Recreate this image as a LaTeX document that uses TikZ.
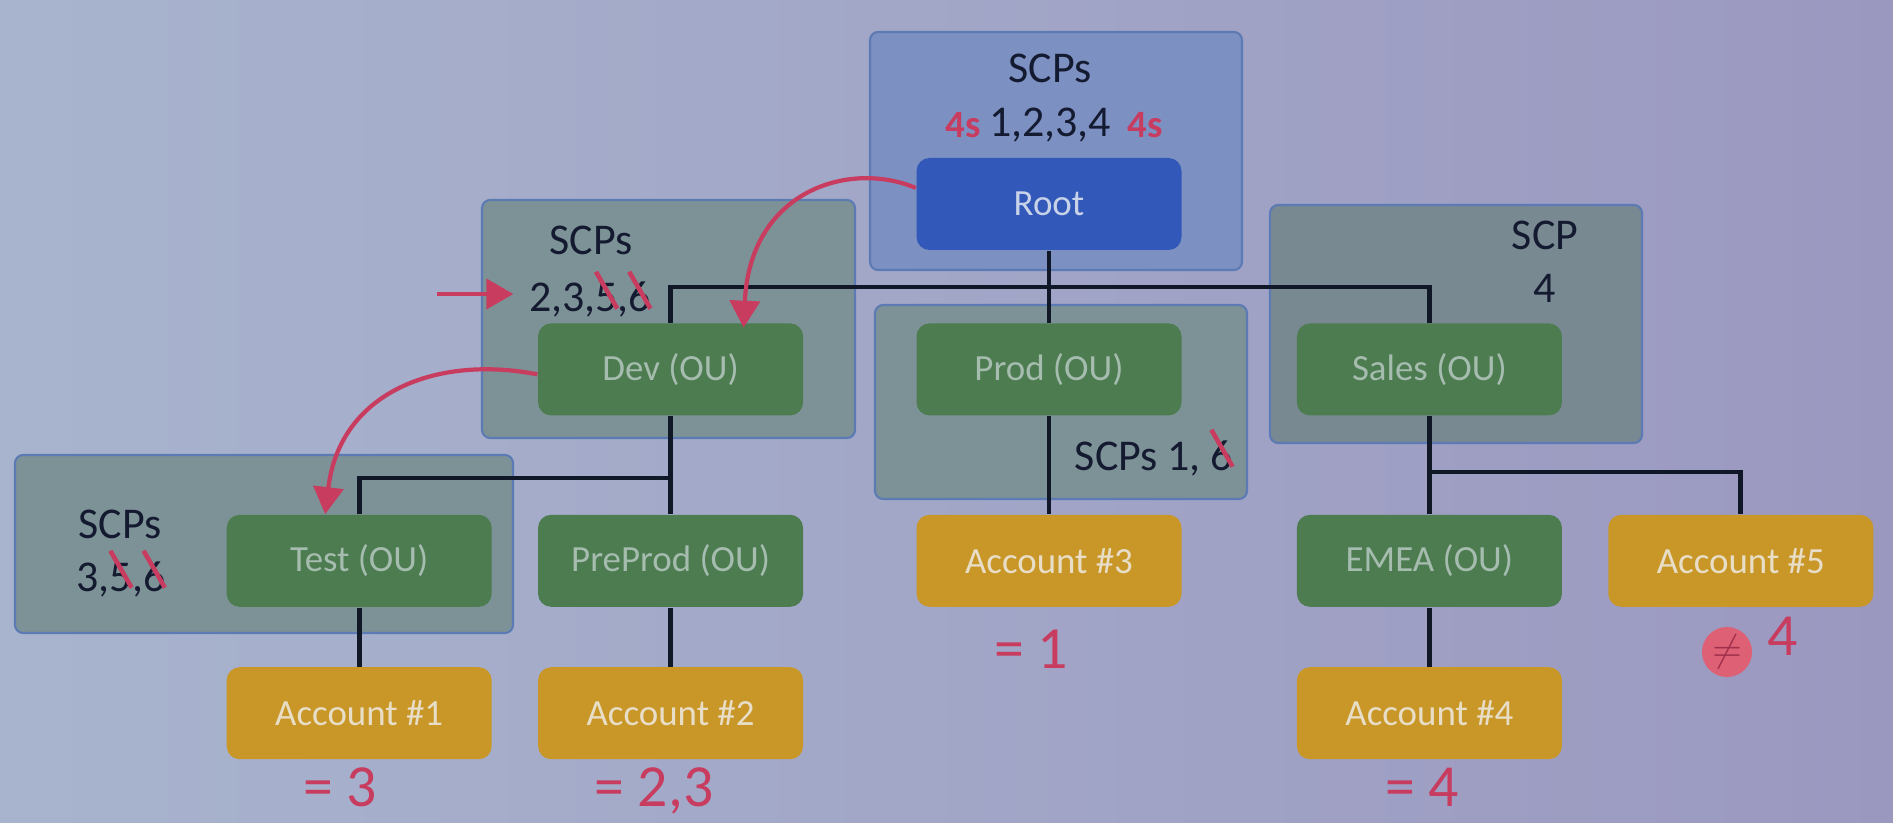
\documentclass[tikz,border=0pt]{standalone}
\usepackage{fontspec}
\usepackage{graphicx}
\setmainfont{Carlito}
\usetikzlibrary{positioning,arrows.meta}

\definecolor{bgleft}{RGB}{168,180,206}
\definecolor{bgright}{RGB}{155,152,192}
\definecolor{scpblue}{RGB}{124,144,194}
\definecolor{scpgrey}{RGB}{125,146,150}
\definecolor{scpslate}{RGB}{121,137,146}
\definecolor{scpedge}{RGB}{92,122,180}
\definecolor{rootblue}{RGB}{50,88,185}
\definecolor{roottext}{RGB}{200,210,232}
\definecolor{ougreen}{RGB}{76,124,80}
\definecolor{outext}{RGB}{165,188,175}
\definecolor{accorange}{RGB}{201,151,40}
\definecolor{acctext}{RGB}{232,222,200}
\definecolor{labeltext}{RGB}{20,26,48}
\definecolor{linkdark}{RGB}{16,24,40}
\definecolor{ink}{RGB}{200,60,95}
\definecolor{cursorred}{RGB}{222,96,116}

% red stroke through a crossed-out digit
\newcommand\scratched[1]{\ooalign{#1\cr\hidewidth\textcolor{ink}{\smash{\raisebox{0.89em}{\rotatebox{-60}{\rule{0.97em}{1.3pt}}}}}\hidewidth\cr}}

\begin{document}
\begin{tikzpicture}[
    x = 1cm, y = -1cm,
    font = \fontsize{10.5}{12}\selectfont,
    ou/.style = {
        rectangle,
        rounded corners = 3.7pt,
        minimum width = 2.65cm,
        minimum height = 0.92cm,
        inner sep = 0pt,
        fill = ougreen,
        text = outext
    },
    account/.style = {
        ou,
        fill = accorange,
        text = acctext
    },
    scpbox/.style = {
        rounded corners = 2.3pt,
        draw = scpedge,
        line width = 0.6pt,
        fill = scpgrey
    },
    scplabel/.style = {
        anchor = base,
        inner sep = 0pt,
        text = labeltext,
        font = \fontsize{12.5}{15}\selectfont
    },
    link/.style = {
        draw = linkdark,
        line width = 1.4pt
    },
    pen/.style = {
        draw = ink,
        line width = 1.2pt,
        -{Triangle[length = 0.27cm, width = 0.3cm]}
    },
    note/.style = {
        anchor = base,
        inner sep = 0pt,
        text = ink,
        font = \fontsize{17}{19}\selectfont
    }
]

    % Background
    \shade [left color = bgleft, right color = bgright] (0,0) rectangle (18.93,8.23);
    \useasboundingbox (0,0) rectangle (18.93,8.23);

    % SCP containers
    \draw [scpbox, fill = scpblue] (8.70,0.32) rectangle (12.42,2.70);
    \draw [scpbox] (4.82,2.00) rectangle (8.55,4.38);
    \draw [scpbox] (8.75,3.05) rectangle (12.47,4.99);
    \draw [scpbox, fill = scpslate] (12.70,2.05) rectangle (16.42,4.43);
    \draw [scpbox] (0.15,4.55) rectangle (5.13,6.33);

    % Nodes
    \node [ou, fill = rootblue, text = roottext] (root) at (10.49,2.04) {Root};
    \node [ou, below = 0.72cm of root] (prod) {Prod (OU)};
    \node [ou, left = 1.12cm of prod] (dev) {Dev (OU)};
    \node [ou, right = 1.14cm of prod] (sales) {Sales (OU)};
    \node [ou, below = 0.98cm of dev] (preprod) {PreProd (OU)};
    \node [ou, left = 0.45cm of preprod] (test) {Test (OU)};
    \node [account, below = 0.98cm of prod] (acc3) {Account \#3};
    \node [ou, below = 0.98cm of sales] (emea) {EMEA (OU)};
    \node [account, right = 0.45cm of emea] (acc5) {Account \#5};
    \node [account, below = 0.59cm of test] (acc1) {Account \#1};
    \node [account, below = 0.59cm of preprod] (acc2) {Account \#2};
    \node [account, below = 0.59cm of emea] (acc4) {Account \#4};

    % Connectors
    \coordinate (ouBus) at (10.49,2.87);
    \coordinate (devBus) at (6.72,4.78);
    \coordinate (salesBus) at (14.28,4.72);
    \draw [link] (root) -- (prod);
    \draw [link] (dev.north) |- (ouBus) -| (sales.north);
    \draw [link] (dev) -- (preprod);
    \draw [link] (test.north) |- (devBus);
    \draw [link] (test) -- (acc1);
    \draw [link] (preprod) -- (acc2);
    \draw [link] (prod) -- (acc3);
    \draw [link] (sales) -- (emea);
    \draw [link] (acc5.north) |- (salesBus);
    \draw [link] (emea) -- (acc4);

    % SCP labels
    \node [scplabel] (rootScp) at (10.50,0.83) {SCPs};
    \node [scplabel] (rootList) at (10.50,1.37) {1,2,3,4};
    \node [note, font = \bfseries\fontsize{11}{12}\selectfont] (rootMarkL) at (9.63,1.38) {4s};
    \node [note, font = \bfseries\fontsize{11}{12}\selectfont] (rootMarkR) at (11.45,1.38) {4s};
    \node [scplabel] (devScp) at (5.91,2.55) {SCPs};
    \node [scplabel] (devList) at (5.90,3.12) {2,3,\scratched{5},\scratched{6}};
    \node [scplabel] (prodScp) at (11.54,4.70) {SCPs 1, \scratched{6}};
    \node [scplabel] (salesScp) at (15.45,2.50) {SCP};
    \node [scplabel] (salesList) at (15.45,3.03) {4};
    \node [scplabel] (testScp) at (1.20,5.38) {SCPs};
    \node [scplabel] (testList) at (1.21,5.91) {3,\scratched{5},\scratched{6}};

    % Pen marks
    \coordinate (devPointer) at (4.37,2.94);
    \draw [pen, shorten > = 0.15cm] (devPointer) -- (devPointer -| devList.west);
    \draw [pen] ([yshift = 0.16cm]root.west) .. controls (8.50,1.60) and (7.50,1.90) .. ([xshift = 0.73cm, yshift = -0.05cm]dev.north);
    \draw [pen] ([yshift = -0.05cm]dev.west) .. controls (4.40,3.55) and (3.40,3.90) .. ([xshift = -0.34cm]test.north);

    \node [note] (acc3Note) at (10.31,6.68) {= 1};
    \node [note] (acc1Note) at (3.40,8.06) {= 3};
    \node [note] (acc2Note) at (6.54,8.06) {= 2,3};
    \node [note] (acc4Note) at (14.22,8.06) {= 4};
    \node [circle, minimum size = 0.5cm, inner sep = 0pt, fill = cursorred, text = ink!80!black] (acc5Mark) at (17.27,6.52) {$\neq$};
    \node [note] (acc5Note) at (17.83,6.55) {4};

\end{tikzpicture}
\end{document}
